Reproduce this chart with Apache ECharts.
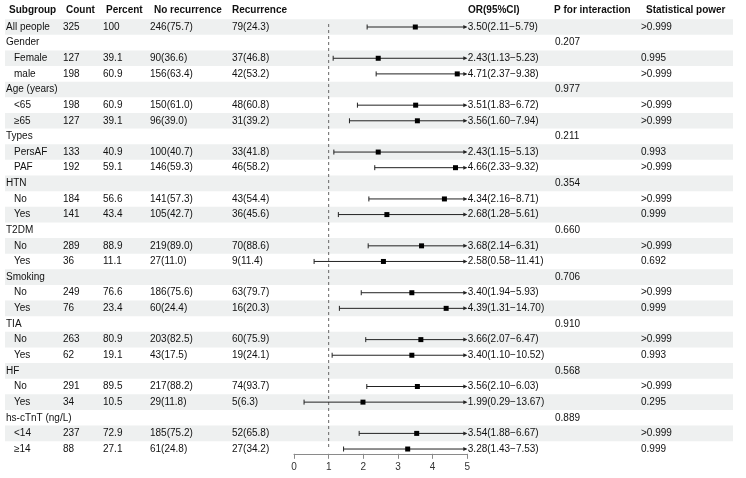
<!DOCTYPE html>
<html><head><meta charset="utf-8">
<script src="https://cdn.jsdelivr.net/npm/echarts@6/dist/echarts.min.js"></script>
<style>html,body{margin:0;padding:0;background:#fff}#c{width:746px;height:478px}</style>
</head><body><div id="c"></div>
<script>
var labels = ["All people","Gender","Female","male","Age (years)","<65","≥65","Types","PersAF","PAF","HTN","No","Yes","T2DM","No","Yes","Smoking","No","Yes","TIA","No","Yes","HF","No","Yes","hs-cTnT (ng/L)","<14","≥14"];
var isSub = [0,0,1,1,0,1,1,0,1,1,0,1,1,0,1,1,0,1,1,0,1,1,0,1,1,0,1,1];
var counts = ["325","","127","198","","198","127","","133","192","","184","141","","289","36","","249","76","","263","62","","291","34","","237","88"];
var percents = ["100","","39.1","60.9","","60.9","39.1","","40.9","59.1","","56.6","43.4","","88.9","11.1","","76.6","23.4","","80.9","19.1","","89.5","10.5","","72.9","27.1"];
var noRecurrence = ["246(75.7)","","90(36.6)","156(63.4)","","150(61.0)","96(39.0)","","100(40.7)","146(59.3)","","141(57.3)","105(42.7)","","219(89.0)","27(11.0)","","186(75.6)","60(24.4)","","203(82.5)","43(17.5)","","217(88.2)","29(11.8)","","185(75.2)","61(24.8)"];
var recurrence = ["79(24.3)","","37(46.8)","42(53.2)","","48(60.8)","31(39.2)","","33(41.8)","46(58.2)","","43(54.4)","36(45.6)","","70(88.6)","9(11.4)","","63(79.7)","16(20.3)","","60(75.9)","19(24.1)","","74(93.7)","5(6.3)","","52(65.8)","27(34.2)"];
var orVals = [3.50,null,2.43,4.71,null,3.51,3.56,null,2.43,4.66,null,4.34,2.68,null,3.68,2.58,null,3.40,4.39,null,3.66,3.40,null,3.56,1.99,null,3.54,3.28];
var ciLow = [2.11,null,1.13,2.37,null,1.83,1.60,null,1.15,2.33,null,2.16,1.28,null,2.14,0.58,null,1.94,1.31,null,2.07,1.10,null,2.10,0.29,null,1.88,1.43];
var ciHigh = [5.79,null,5.23,9.38,null,6.72,7.94,null,5.13,9.32,null,8.71,5.61,null,6.31,11.41,null,5.93,14.70,null,6.47,10.52,null,6.03,13.67,null,6.67,7.53];
var pInteraction = ["","0.207","","","0.977","","","0.211","","","0.354","","","0.660","","","0.706","","","0.910","","","0.568","","","0.889","",""];
var power = [">0.999","","0.995",">0.999","",">0.999",">0.999","","0.993",">0.999","",">0.999","0.999","",">0.999","0.692","",">0.999","0.999","",">0.999","0.993","",">0.999","0.295","",">0.999","0.999"];
var headers = ["Subgroup","Count","Percent","No recurrence","Recurrence","OR(95%CI)","P for interaction","Statistical power"];
var xTicks = [0,1,2,3,4,5];

var FONT = '"Liberation Sans", Arial, sans-serif';
var FS = 10;
var rowIdx = labels.map(function(_, i){ return i; });
var xMax = xTicks[xTicks.length-1];

var colX = {sub:6, subIndent:14, count:63, pct:103, noRec:150, rec:232, p:555, pow:641};
var headX = [9, 66, 106, 154, 232, 468, 554, 646];

function txt(x, y, s, bold) {
  return {type:'text', x:x, y:y, style:{text:s, fill:'#111', font:(bold?'bold ':'') + FS + 'px ' + FONT, textVerticalAlign:'middle', textAlign:'left'}};
}

var chart = echarts.init(document.getElementById('c'), null, {renderer:'canvas'});
var bandH = 15.63;
var top0 = 19.2;
chart.setOption({
  animation:false,
  grid:{left:294, width:173.3, top:top0, height:bandH*labels.length},
  xAxis:{type:'value', min:0, max:xMax, interval:1, offset:-3,
    axisLine:{show:true, lineStyle:{color:'#8a8a8a', width:1}},
    axisTick:{show:true, length:5, lineStyle:{color:'#8a8a8a'}},
    axisLabel:{color:'#333', fontFamily:FONT, fontSize:FS, margin:8},
    splitLine:{show:false}},
  yAxis:{type:'category', data:rowIdx, inverse:true, show:false},
  graphic: headers.map(function(h, k){
    return {type:'text', left:headX[k], top:5, style:{text:h, fill:'#111', font:'bold ' + FS + 'px ' + FONT}};
  }),
  series:[
    {type:'custom', clip:false, z:1, data:rowIdx.map(function(i){return [0,i];}),
     renderItem:function(params, api){
       var i = api.value(1);
       if (i % 2 !== 0) return null;
       var c = api.coord([0, i]); var h = api.size([0,1])[1];
       return {type:'rect', shape:{x:5, y:c[1]-h/2, width:728, height:h}, style:{fill:'#eef0f0'}, silent:true};
     }},
    {type:'custom', clip:false, z:3, data:rowIdx.map(function(i){return [0,i];}),
     renderItem:function(params, api){
       var i = api.value(1);
       var y = api.coord([0, i])[1];
       var ch = [];
       ch.push(txt(isSub[i] ? colX.subIndent : colX.sub, y, labels[i]));
       if (counts[i]) ch.push(txt(colX.count, y, counts[i]));
       if (percents[i]) ch.push(txt(colX.pct, y, percents[i]));
       if (noRecurrence[i]) ch.push(txt(colX.noRec, y, noRecurrence[i]));
       if (recurrence[i]) ch.push(txt(colX.rec, y, recurrence[i]));
       if (pInteraction[i]) ch.push(txt(colX.p, y, pInteraction[i]));
       if (power[i]) ch.push(txt(colX.pow, y, power[i]));
       return {type:'group', children:ch};
     }},
    {type:'custom', clip:false, z:4, data:[[1,0]],
     renderItem:function(params, api){
       var a = api.coord([api.value(0), 0]);
       var b = api.coord([api.value(0), labels.length-1]);
       return {type:'line', shape:{x1:a[0], y1:a[1]-3, x2:b[0], y2:b[1]+1}, style:{stroke:'#666', lineWidth:1, lineDash:[3,3]}};
     }},
    {type:'custom', clip:false, z:5,
     data:rowIdx.filter(function(i){return orVals[i]!=null;}).map(function(i){return [orVals[i], i, ciLow[i], ciHigh[i]];}),
     renderItem:function(params, api){
       var or = api.value(0), i = api.value(1), lo = api.value(2), hi = api.value(3);
       var p0 = api.coord([lo, i]); var pm = api.coord([or, i]); var pe = api.coord([Math.min(hi, xMax), i]);
       var y = p0[1];
       var col = '#222';
       var ch = [
         {type:'line', shape:{x1:p0[0], y1:y, x2:pe[0]-1, y2:y}, style:{stroke:col, lineWidth:1}},
         {type:'line', shape:{x1:p0[0], y1:y-2.5, x2:p0[0], y2:y+2.5}, style:{stroke:col, lineWidth:1}},
         {type:'polygon', shape:{points:[[pe[0],y],[pe[0]-4,y-2],[pe[0]-4,y+2]]}, style:{fill:col}},
         {type:'rect', shape:{x:pm[0]-2.5, y:y-2.5, width:5, height:5}, style:{fill:'#000'}},
         txt(pe[0]+0.5, y, or.toFixed(2) + '(' + lo.toFixed(2) + '\u2212' + hi.toFixed(2) + ')')
       ];
       return {type:'group', children:ch};
     }}
  ]
});
</script></body></html>
